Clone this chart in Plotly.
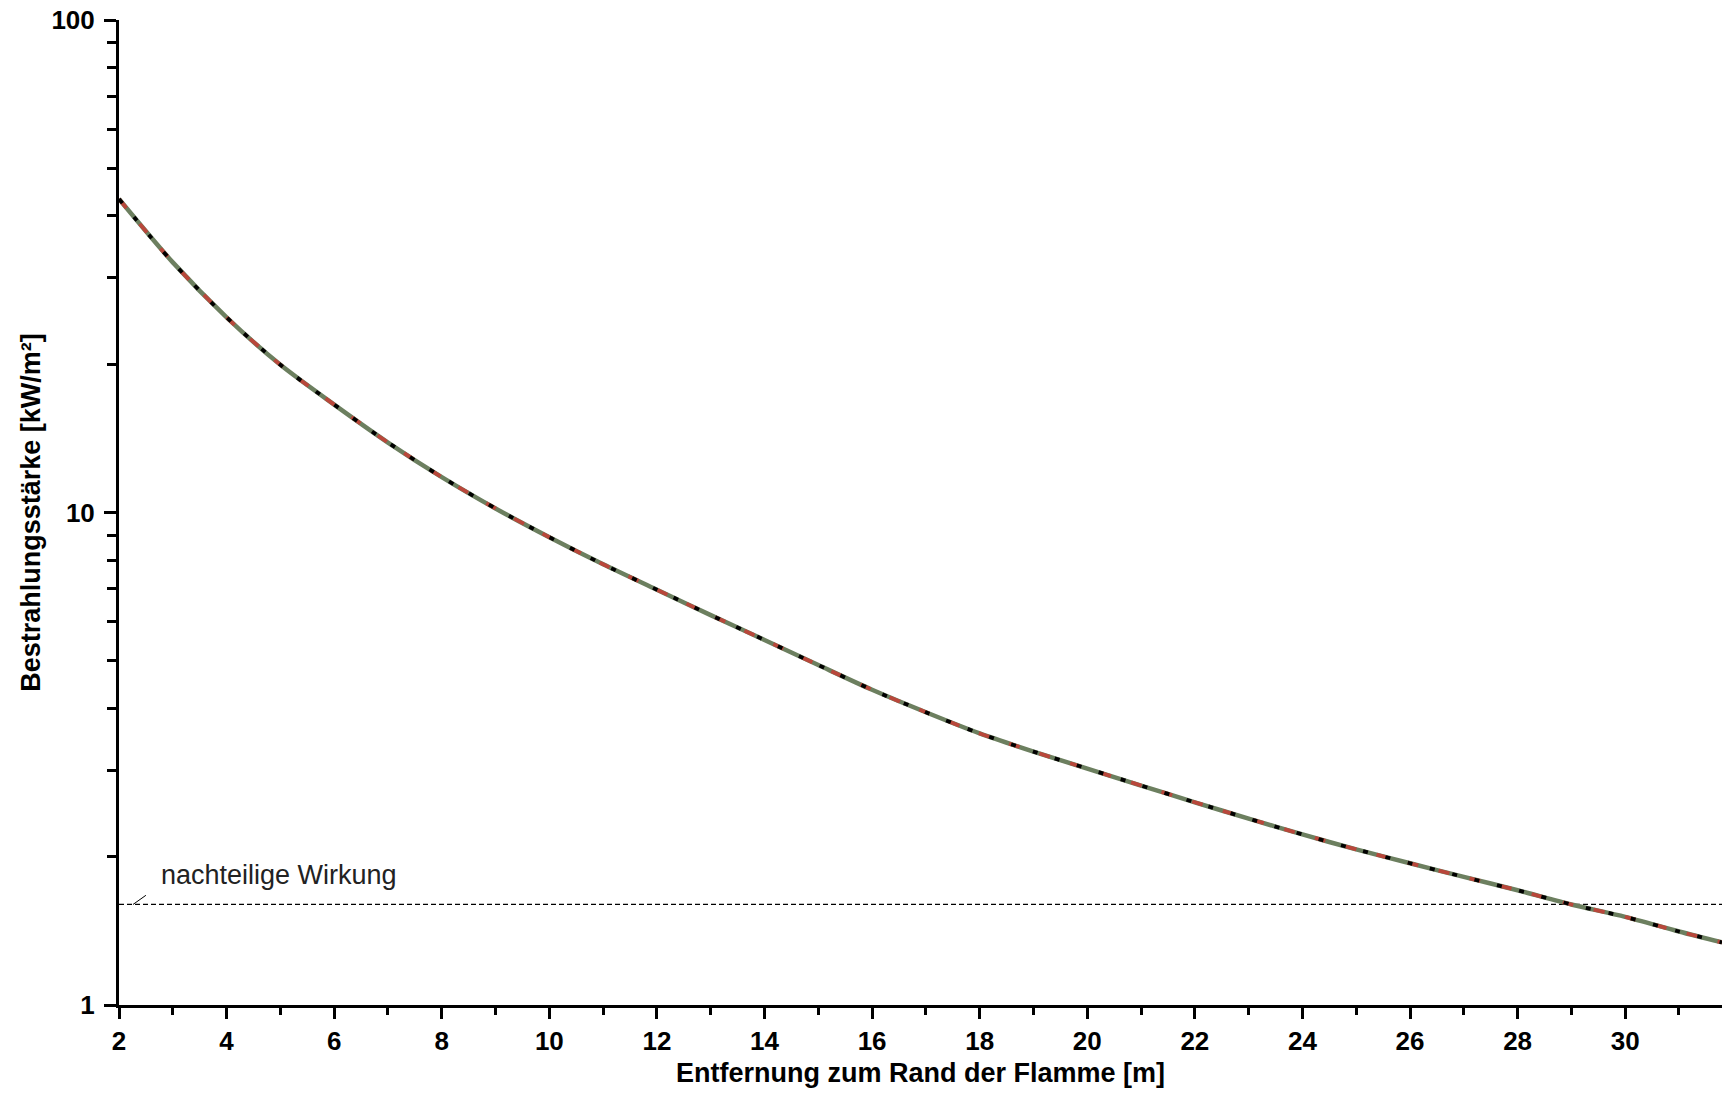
import math
import plotly.graph_objects as go

# Data
distance_m = [2, 3, 4, 5, 6, 7, 8, 9, 10, 11, 12, 13, 14, 15, 16, 17, 18, 19, 20,
              21, 22, 23, 24, 25, 26, 27, 28, 29, 30, 31, 31.8]
irradiance_kw_m2 = [43.3, 32.2, 24.9, 19.95, 16.56, 13.87, 11.80, 10.19, 8.91, 7.85, 6.97,
                    6.19, 5.51, 4.90, 4.365, 3.93, 3.56, 3.27, 3.02, 2.79, 2.58, 2.39,
                    2.22, 2.07, 1.94, 1.82, 1.71, 1.60, 1.51, 1.41, 1.34]
threshold_value = 1.6
threshold_label = "nachteilige Wirkung"
x_range = [2, 31.8]
x_major_ticks = list(range(2, 32, 2))
x_minor_ticks = list(range(3, 32, 2))
y_major_ticks = [1, 10, 100]
y_minor_ticks = [v * d for d in (1, 10) for v in range(2, 10)]
label_pos = (2.74, 1.84)
leader = [(2.26, 1.6), (2.5, 1.67)]

font_family = "Liberation Sans, Arial, sans-serif"

fig = go.Figure()

# Threshold dashed line
fig.add_trace(go.Scatter(
    x=x_range, y=[threshold_value, threshold_value], mode="lines",
    line=dict(color="black", width=1.2, dash="5px,3px"),
    hoverinfo="skip", showlegend=False))

# Overlapping curves (green solid, red dashed, black dotted)
fig.add_trace(go.Scatter(
    x=distance_m, y=irradiance_kw_m2, mode="lines",
    line=dict(color="#6c7f5f", width=4.5, shape="spline", smoothing=0.8),
    showlegend=False))
fig.add_trace(go.Scatter(
    x=distance_m, y=irradiance_kw_m2, mode="lines",
    line=dict(color="#b9473b", width=3.8, dash="11px,21px", shape="spline", smoothing=0.8),
    showlegend=False))
fig.add_trace(go.Scatter(
    x=distance_m, y=irradiance_kw_m2, mode="lines",
    line=dict(color="black", width=3.8, dash="5px,18px", shape="spline", smoothing=0.8),
    showlegend=False))

# Leader line for the label
fig.add_trace(go.Scatter(
    x=[p[0] for p in leader], y=[p[1] for p in leader], mode="lines",
    line=dict(color="black", width=1), hoverinfo="skip", showlegend=False))

fig.add_annotation(
    x=label_pos[0], y=math.log10(label_pos[1]), yref="y", xref="x",
    text=threshold_label, showarrow=False, xanchor="left", yanchor="middle",
    font=dict(family=font_family, size=27, color="#222222"))

fig.update_layout(
    width=1722, height=1095,
    margin=dict(l=119, r=0, t=20, b=90),
    paper_bgcolor="white", plot_bgcolor="white",
    font=dict(family=font_family, color="black"),
)

fig.update_xaxes(
    range=x_range, showgrid=False, zeroline=False, automargin=False,
    showline=True, linecolor="black", linewidth=3,
    ticks="outside", ticklen=11, tickwidth=3, tickcolor="black",
    tickvals=x_major_ticks, ticktext=[str(v) for v in x_major_ticks],
    tickfont=dict(family=font_family, size=26, weight="bold"),
    ticklabeloverflow="allow",
    minor=dict(tickvals=x_minor_ticks, ticks="outside", ticklen=7, tickwidth=3,
               tickcolor="black", showgrid=False),
    title=dict(text="Entfernung zum Rand der Flamme [m]",
               font=dict(family=font_family, size=27, weight="bold"), standoff=8),
)

fig.update_yaxes(
    type="log", range=[0, 2], showgrid=False, zeroline=False, automargin=False,
    showline=True, linecolor="black", linewidth=3,
    ticks="outside", ticklen=12, tickwidth=3, tickcolor="black",
    ticklabelstandoff=4, ticklabeloverflow="allow",
    tickvals=y_major_ticks, ticktext=[str(v) for v in y_major_ticks],
    tickfont=dict(family=font_family, size=26, weight="bold"),
    minor=dict(tickvals=y_minor_ticks, ticks="outside", ticklen=9, tickwidth=3,
               tickcolor="black", showgrid=False),
    title=dict(text="Bestrahlungsstärke [kW/m²]",
               font=dict(family=font_family, size=27, weight="bold"), standoff=3),
)

# Remove the default 8px page margin so the figure fills the window exactly
fig.write_html(
    "out.html",
    config={"displayModeBar": False},
    post_script="document.body.style.margin='0';document.body.style.overflow='hidden';",
)
